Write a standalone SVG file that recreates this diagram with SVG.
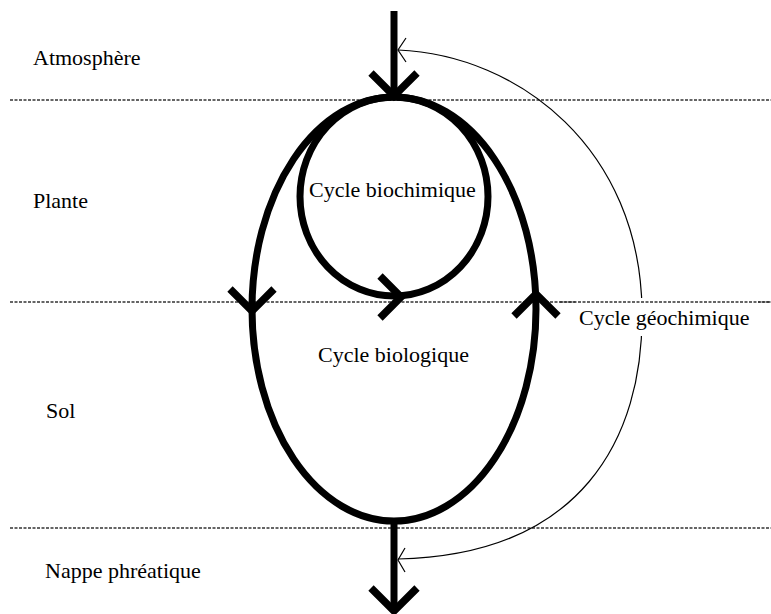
<svg xmlns="http://www.w3.org/2000/svg" width="771" height="614" viewBox="0 0 771 614">
<style>
text{font-family:'Liberation Serif','Times New Roman',Times,serif;font-size:22px;fill:#000}
.dash{stroke:#333;stroke-width:1.4;stroke-dasharray:3 1.5;fill:none}
.thick{stroke:#000;stroke-width:7;fill:none}
.chev{stroke:#000;stroke-width:7.5;fill:none;stroke-linejoin:miter}
.thin{stroke:#000;stroke-width:1.2;fill:none}
</style>
<rect width="771" height="614" fill="#fff"/>
<g id="layers" font-family="Liberation Serif, serif" font-size="22">
<line class="dash" x1="10" y1="100" x2="771" y2="100"/>
<line class="dash" x1="10" y1="302" x2="771" y2="302"/>
<line class="dash" x1="10" y1="528" x2="771" y2="528"/>
<text x="33" y="65">Atmosphère</text>
<text x="33" y="208">Plante</text>
<text x="46" y="418">Sol</text>
<text x="45" y="578">Nappe phréatique</text>
</g>
<g id="cycle-biologique">
<ellipse class="thick" cx="394" cy="309" rx="142" ry="212"/>
<text x="318" y="362">Cycle biologique</text>
</g>
<g id="cycle-biochimique">
<ellipse class="thick" cx="394" cy="196.5" rx="94" ry="99.5"/>
<text x="309" y="197">Cycle biochimique</text>
</g>
<g id="cycle-geochimique">
<path class="thin" d="M398,50 C520,55 640,150 642,310 C644,440 580,555 398,559"/>
<rect x="576" y="298" width="182" height="38" fill="#fff"/>
<line class="dash" x1="560" y1="302" x2="771" y2="302"/>
<text x="579" y="325">Cycle géochimique</text>
</g>
<g id="connectors">
<line class="thick" x1="394" y1="11" x2="394" y2="96"/>
<polyline class="chev" points="371,73 394,96 417,73"/>
<line class="thick" x1="394" y1="521" x2="394" y2="609"/>
<polyline class="chev" points="371,588 394,611 417,588"/>
<polyline class="chev" points="230,289 252,311 274,289"/>
<polyline class="chev" points="380,276 401,297 380,318"/>
<polyline class="chev" points="514,316 536,294 558,316"/>
<polyline class="thin" points="406,38 398,50 406,62"/>
<polyline class="thin" points="405,548 398,560 405,572"/>
</g>
</svg>
